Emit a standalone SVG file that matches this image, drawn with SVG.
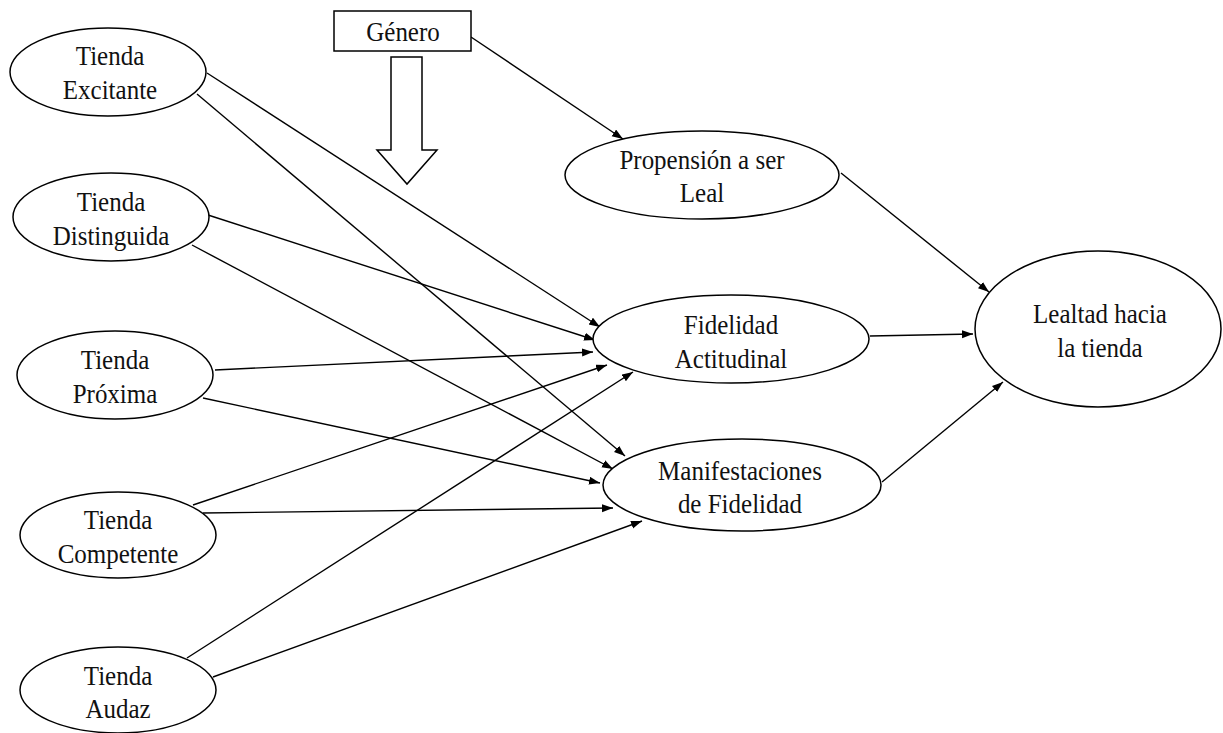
<svg xmlns="http://www.w3.org/2000/svg" width="1223" height="733" viewBox="0 0 1223 733">
<style>
.n{fill:#fff;stroke:#000;stroke-width:1.5}
.t{font-family:"Liberation Serif","Times New Roman",serif;font-size:25px;fill:#111;text-anchor:middle}
.c{stroke:#000;stroke-width:1.4;fill:none;marker-end:url(#ah)}
</style>
<defs>
<marker id="ah" markerUnits="userSpaceOnUse" markerWidth="12" markerHeight="9" refX="11" refY="4" orient="auto">
<path d="M0,0 L11,4 L0,8 z" fill="#000"/>
</marker>
</defs>
<rect width="1223" height="733" fill="#fff"/>
<g id="connectors">
<line class="c" x1="471" y1="37" x2="623" y2="139"/>
<line class="c" x1="841" y1="173" x2="989" y2="292"/>
<line class="c" x1="870" y1="336" x2="973" y2="334"/>
<line class="c" x1="882" y1="482" x2="1003" y2="382"/>
<line class="c" x1="207" y1="73" x2="600" y2="327"/>
<line class="c" x1="197" y1="94" x2="625" y2="456"/>
<line class="c" x1="208" y1="215" x2="595" y2="340"/>
<line class="c" x1="192" y1="245" x2="613" y2="469"/>
<line class="c" x1="215" y1="370" x2="593" y2="352"/>
<line class="c" x1="203" y1="398" x2="600" y2="483"/>
<line class="c" x1="193" y1="505" x2="607" y2="365"/>
<line class="c" x1="203" y1="513" x2="613" y2="508"/>
<line class="c" x1="187" y1="658" x2="633" y2="372"/>
<line class="c" x1="213" y1="677" x2="642" y2="521"/>
<path id="genero-arrow" d="M391,57 H422 V150 H437 L407,184 L377,150 H391 Z" fill="#fff" stroke="#000" stroke-width="1.5"/>
</g>
<g id="genero">
<rect class="n" x="334" y="11" width="137" height="40"/>
<text class="t" transform="translate(403,41) scale(1,1.12)">Género</text>
</g>
<g id="excitante">
<ellipse class="n" cx="108" cy="72" rx="98" ry="44"/>
<text class="t" transform="translate(110,65) scale(1,1.12)">Tienda</text>
<text class="t" transform="translate(110,99) scale(1,1.12)">Excitante</text>
</g>
<g id="distinguida">
<ellipse class="n" cx="111" cy="217" rx="98" ry="44"/>
<text class="t" transform="translate(111,211) scale(1,1.12)">Tienda</text>
<text class="t" transform="translate(111,245) scale(1,1.12)">Distinguida</text>
</g>
<g id="proxima">
<ellipse class="n" cx="115" cy="375" rx="98" ry="44"/>
<text class="t" transform="translate(115,369) scale(1,1.12)">Tienda</text>
<text class="t" transform="translate(115,403) scale(1,1.12)">Próxima</text>
</g>
<g id="competente">
<ellipse class="n" cx="118" cy="535" rx="98" ry="43"/>
<text class="t" transform="translate(118,529) scale(1,1.12)">Tienda</text>
<text class="t" transform="translate(118,563) scale(1,1.12)">Competente</text>
</g>
<g id="audaz">
<ellipse class="n" cx="118" cy="690" rx="98" ry="43"/>
<text class="t" transform="translate(118,685) scale(1,1.12)">Tienda</text>
<text class="t" transform="translate(118,718) scale(1,1.12)">Audaz</text>
</g>
<g id="propension">
<ellipse class="n" cx="702" cy="175" rx="137" ry="44"/>
<text class="t" transform="translate(702,169) scale(1,1.12)">Propensión a ser</text>
<text class="t" transform="translate(702,202) scale(1,1.12)">Leal</text>
</g>
<g id="fidelidad">
<ellipse class="n" cx="731" cy="339" rx="138" ry="44"/>
<text class="t" transform="translate(731,334) scale(1,1.12)">Fidelidad</text>
<text class="t" transform="translate(731,368) scale(1,1.12)">Actitudinal</text>
</g>
<g id="manifestaciones">
<ellipse class="n" cx="742" cy="485" rx="139" ry="46"/>
<text class="t" transform="translate(740,480) scale(1,1.12)">Manifestaciones</text>
<text class="t" transform="translate(740,513) scale(1,1.12)">de Fidelidad</text>
</g>
<g id="lealtad">
<ellipse class="n" cx="1098" cy="329" rx="123" ry="78"/>
<text class="t" transform="translate(1100,323) scale(1,1.12)">Lealtad hacia</text>
<text class="t" transform="translate(1100,357) scale(1,1.12)">la tienda</text>
</g>
</svg>
